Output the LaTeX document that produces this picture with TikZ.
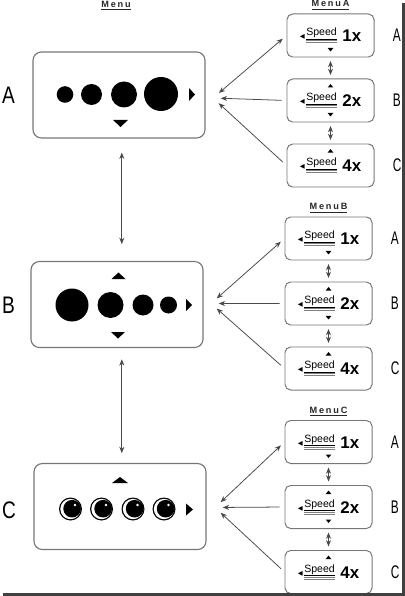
\documentclass[tikz,border=0pt]{standalone}
\usepackage{fontspec}
\setmainfont{Liberation Sans}
\newfontfamily\symfont{DejaVu Sans}
\usepackage{graphicx}
\usepackage{tikz}
\usetikzlibrary{arrows.meta, positioning}
\definecolor{framegray}{HTML}{767676}
\definecolor{linkgray}{HTML}{4A4A4A}

\newcommand{\speedword}{\raisebox{4pt}{\vtop{\hbox{\fontsize{7.5}{8}\selectfont Speed}%
  \kern0.6pt\hrule height 0.45pt\kern0.6pt{\color{gray}\hrule height 0.5pt\kern0.6pt\hrule height 0.5pt}}}}
\newcommand{\speedtag}[1]{{\symfont\fontsize{4.5}{5}\selectfont\raisebox{2pt}{◀}}\hspace{1.2pt}%
  \speedword\hspace{4pt}{\fontsize{12}{12}\selectfont\bfseries #1}\hspace{5pt}}
\newcommand{\biglabel}[1]{\scalebox{0.8}[1]{\fontsize{17}{17}\selectfont #1}}
\newcommand{\smalllabel}[1]{\scalebox{0.65}[1]{\fontsize{13}{13}\selectfont #1}}
\newcommand{\menutitle}[1]{\underline{\fontsize{6.5}{7}\selectfont\bfseries\addfontfeature{LetterSpace=20}#1}}
\newcommand{\ball}[2]{%
  \fill (#1,#2) circle (11.5);
  \fill[white] (#1,#2) circle (10.2);
  \fill ({#1+1.6},{#2-0.3}) circle (8.8);
  \fill[white] ({#1+4.5},{#2-4}) circle (1.4);}

\begin{document}
\begin{tikzpicture}[
    x=0.025cm, y=-0.025cm,
    node distance = 0.525cm,
    >={Stealth[length=4.5pt,width=3.6pt]},
    screen/.style = {rectangle, rounded corners=6pt, draw=framegray,
                     line width=0.8pt, minimum width=4.3cm, minimum height=2.15cm},
    option/.style = {rectangle, rounded corners=4pt, draw=framegray, line width=0.7pt,
                     minimum width=2.175cm, minimum height=1.075cm, inner sep=0pt},
    link/.style   = {->, draw=linkgray, line width=0.55pt,
                     shorten <=3.5pt, shorten >=5.5pt},
    twoway/.style = {<->, draw=linkgray, line width=0.55pt},
    title/.style  = {inner sep=0pt, text=black!85},
    side/.style   = {inner sep=0pt}
  ]
  \useasboundingbox (0,0) rectangle (405,596);

  % main screens
  \node[screen] (scrA) at (119,95)    {};
  \node[screen] (scrB) at (117,304.5) {};
  \node[screen] (scrC) at (120,506.5) {};
  \node[title] (ttlMain) at (116,6) {\menutitle{Menu}};

  \node[side] (labA) at (8.5,95.5) {\biglabel{A}};
  \node[side] (labB) at (8.5,305)  {\biglabel{B}};
  \node[side] (labC) at (9,510)    {\biglabel{C}};

  % screen A
  \fill (65,94.5) circle (8.3);
  \fill (91.5,94.5) circle (10.5);
  \fill (124,94.5) circle (13);
  \fill (161,94) circle (17);
  \fill (189,88) -- (195,94.5) -- (189,101) -- cycle;
  \fill (113,120) -- (128,120) -- (120.5,127) -- cycle;

  % screen B
  \fill (72,305) circle (16.5);
  \fill (110.5,305) circle (13);
  \fill (143,305) circle (10.5);
  \fill (168.5,305) circle (8.5);
  \fill (111.5,279) -- (125.5,279) -- (118.5,272.5) -- cycle;
  \fill (111,332) -- (125,332) -- (118,338.5) -- cycle;
  \fill (186,299) -- (192,305) -- (186,311) -- cycle;

  % screen C
  \ball{70.5}{509}
  \ball{101.5}{509}
  \ball{133}{509}
  \ball{164}{509}
  \fill (112,483) -- (128,483) -- (120,477) -- cycle;
  \fill (186,503.5) -- (193,509.5) -- (186,515.5) -- cycle;

  % option menus
  \node[option] (optA1) at (330.5,35.5) {\speedtag{1x}};
  \node[option, below=of optA1] (optA2) {\speedtag{2x}};
  \node[option, below=of optA2] (optA3) {\speedtag{4x}};
  \node[title, above=2.5pt of optA1] (ttlA) {\menutitle{MenuA}};

  \node[option] (optB1) at (328.5,238.5) {\speedtag{1x}};
  \node[option, below=of optB1] (optB2) {\speedtag{2x}};
  \node[option, below=of optB2] (optB3) {\speedtag{4x}};
  \node[title, above=2.5pt of optB1] (ttlB) {\menutitle{MenuB}};

  \node[option] (optC1) at (328.5,442) {\speedtag{1x}};
  \node[option, below=of optC1] (optC2) {\speedtag{2x}};
  \node[option, below=of optC2] (optC3) {\speedtag{4x}};
  \node[title, above=2.5pt of optC1] (ttlC) {\menutitle{MenuC}};

  \foreach \g in {A,B,C} {
    \node[side, right=0.45cm of opt\g1] (lab\g1) {\smalllabel{A}};
    \node[side, right=0.45cm of opt\g2] (lab\g2) {\smalllabel{B}};
    \node[side, right=0.45cm of opt\g3] (lab\g3) {\smalllabel{C}};
  }

  % scroll marks in the options
  \foreach \o in {optA1,optA2,optB1,optB2,optC1,optC2}
    \fill[shift={(\o.south)}] (-2.8,-9.5) -- (2.8,-9.5) -- (0,-6) -- cycle;
  \foreach \o in {optA2,optA3,optB2,optB3,optC2,optC3}
    \fill[shift={(\o.north)}] (-2.8,9) -- (2.8,9) -- (0,5.5) -- cycle;

  % junctions
  \coordinate (jA) at (213,98);
  \coordinate (jB) at (211,303.5);
  \coordinate (jC) at (215,507.5);

  \draw[link, <->] (optA1.west) -- (jA);
  \draw[link]      (optA2.west) -- (jA);
  \draw[link]      (optA3.west) -- (jA);
  \draw[link, <->] (optB1.west) -- (jB);
  \draw[link]      (optB2.west) -- (jB);
  \draw[link]      (optB3.west) -- (jB);
  \draw[link, <->] (optC1.west) -- (jC);
  \draw[link]      (optC2.west) -- (jC);
  \draw[link]      (optC3.west) -- (jC);

  \draw[twoway, shorten <=2.5pt, shorten >=2.5pt] (optA1) -- (optA2);
  \draw[twoway, shorten <=2.5pt, shorten >=2.5pt] (optA2) -- (optA3);
  \draw[twoway, shorten <=2.5pt, shorten >=2.5pt] (optB1) -- (optB2);
  \draw[twoway, shorten <=2.5pt, shorten >=2.5pt] (optB2) -- (optB3);
  \draw[twoway, shorten <=2.5pt, shorten >=2.5pt] (optC1) -- (optC2);
  \draw[twoway, shorten <=2.5pt, shorten >=2.5pt] (optC2) -- (optC3);

  \draw[twoway, shorten <=10pt, shorten >=12pt] ([xshift=2pt]scrA.south) -- ([xshift=2pt]scrA.south |- scrB.north);
  \draw[twoway, shorten <=8pt, shorten >=7pt] ([xshift=2pt]scrA.south |- scrB.south) -- ([xshift=2pt]scrA.south |- scrC.north);

  % frame shadow
  \draw[line width=2pt, black!75] (403.6,3) -- (403.6,594.6) -- (3,594.6);
\end{tikzpicture}
\end{document}
